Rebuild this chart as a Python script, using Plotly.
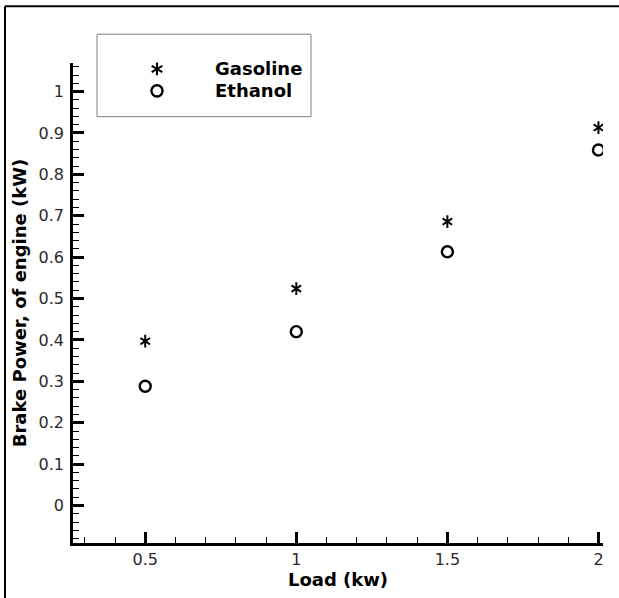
import plotly.graph_objects as go

# Engine load (kW) and measured brake power (kW) for each fuel
load_kw = [0.5, 1.0, 1.5, 2.0]
gasoline_bp = [0.397, 0.524, 0.686, 0.913]
ethanol_bp = [0.288, 0.420, 0.613, 0.859]

series_names = ["Gasoline", "Ethanol"]
x_title = "Load (kw)"
y_title = "Brake Power, of engine (kW)"

W, H = 619, 598
ML, MR, MT, MB = 73, 16, 63, 52
PW, PH = W - ML - MR, H - MT - MB

FONT = "DejaVu Sans, Liberation Sans, Arial"


def px(x):
    return (x - ML) / PW


def py(y):
    return (H - MB - y) / PH


fig = go.Figure()

# Gasoline drawn as a six-armed asterisk (two overlaid "Y" symbols)
for sym in ["y-up-open", "y-down-open"]:
    fig.add_trace(go.Scatter(
        x=load_kw, y=gasoline_bp, mode="markers", name=series_names[0],
        showlegend=False,
        marker=dict(symbol=sym, size=8, color="black",
                    line=dict(color="black", width=2)),
    ))

fig.add_trace(go.Scatter(
    x=load_kw, y=ethanol_bp, mode="markers", name=series_names[1],
    showlegend=False,
    marker=dict(symbol="circle-open", size=11, color="black",
                line=dict(color="black", width=2.4)),
))

axis_common = dict(
    showgrid=False, zeroline=False, showline=True, linecolor="black",
    linewidth=2.5, ticks="inside", ticklen=11, tickwidth=2.5,
    tickcolor="black", mirror=False,
    tickfont=dict(family=FONT, size=16, color="#2a2a2a"),
)

fig.update_xaxes(
    range=[0.261, 2.015], tick0=0, dtick=0.5,
    minor=dict(ticks="inside", ticklen=6, tickwidth=1, tickcolor="black",
               dtick=0.1, tick0=0),
    title=dict(text=x_title, standoff=4,
               font=dict(family=FONT, size=18, color="black", weight="bold")),
    **axis_common,
)
fig.update_yaxes(
    range=[-0.0905, 1.069], tick0=0, dtick=0.1,
    ticklabelstandoff=3,
    minor=dict(ticks="inside", ticklen=6, tickwidth=1, tickcolor="black",
               dtick=0.02, tick0=0),
    title=dict(text=y_title, standoff=8,
               font=dict(family=FONT, size=18, color="black", weight="bold")),
    **axis_common,
)

shapes = [
    # outer frame (top and left edges)
    dict(type="line", xref="paper", yref="paper",
         x0=px(5), x1=px(W + 5), y0=py(6), y1=py(6),
         line=dict(color="black", width=2)),
    dict(type="line", xref="paper", yref="paper",
         x0=px(5), x1=px(5), y0=py(6), y1=py(H + 5),
         line=dict(color="black", width=2)),
    # legend box
    dict(type="rect", xref="paper", yref="paper",
         x0=px(97), x1=px(311), y0=py(34), y1=py(117),
         line=dict(color="#7f7f7f", width=1), fillcolor="white"),
    # legend symbols
    dict(type="path", xref="paper", yref="paper",
         xsizemode="pixel", ysizemode="pixel",
         xanchor=px(157), yanchor=py(69),
         path="M0,-6.4L0,6.4M-5.3,-3.1L5.3,3.1M-5.3,3.1L5.3,-3.1",
         line=dict(color="black", width=2)),
    dict(type="circle", xref="paper", yref="paper",
         xsizemode="pixel", ysizemode="pixel",
         xanchor=px(157), yanchor=py(91),
         x0=-5.6, x1=5.6, y0=-5.6, y1=5.6,
         line=dict(color="black", width=2.4)),
]

annotations = []
for name, yy in zip(series_names, [69, 91]):
    annotations.append(dict(
        xref="paper", yref="paper", x=px(213), y=py(yy),
        xanchor="left", yanchor="middle", showarrow=False, text=name,
        font=dict(family=FONT, size=18, color="black", weight="bold"),
    ))

fig.update_layout(
    width=W, height=H,
    margin=dict(l=ML, r=MR, t=MT, b=MB),
    paper_bgcolor="white", plot_bgcolor="white",
    showlegend=False,
    shapes=shapes, annotations=annotations,
)

fig.write_html("out.html")
